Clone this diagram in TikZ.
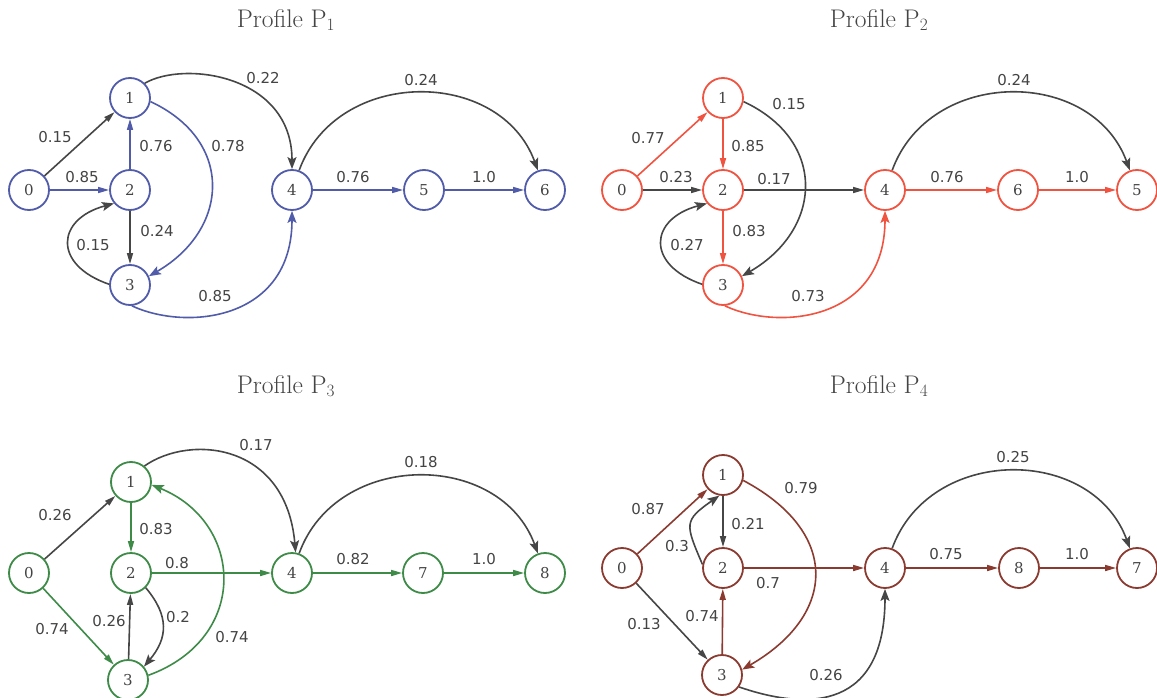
\documentclass[tikz,border=0pt]{standalone}
\usepackage{fontspec}
\newfontfamily\edgefont{DejaVu Sans}
\newfontfamily\nodefont{DejaVu Serif}
\usetikzlibrary{arrows.meta}
\definecolor{cblue}{RGB}{80,92,170}
\definecolor{cred}{RGB}{240,83,64}
\definecolor{cgreen}{RGB}{62,139,72}
\definecolor{cbrown}{RGB}{139,58,48}
\definecolor{cgray}{RGB}{70,70,70}
\definecolor{ctext}{RGB}{68,68,68}
\tikzset{
  vtx/.style={circle, draw=#1, line width=1.8pt, minimum size=40pt, inner sep=0pt,
    fill=white, text=ctext, font=\nodefont\fontsize{15}{17}\selectfont},
  lbl/.style={text=ctext, inner sep=0pt, font=\edgefont\fontsize{15}{17}\selectfont},
  se/.style={draw=#1, line width=1.6pt, -{Stealth[length=11pt,width=6pt,inset=0pt]}},
  ce/.style={draw=#1, line width=1.6pt, -{Stealth[length=12pt,width=9pt,inset=2.5pt]}},
  ttl/.style={text=ctext, inner sep=0pt, font=\fontsize{25.5}{28}\selectfont}
}
\begin{document}
\begin{tikzpicture}[x=1pt,y=-1pt]
\useasboundingbox (0,0) rectangle (1157,698);
% titles
\node[ttl] (t1) at (286,20) {Profile P$_1$};
\node[ttl] (t2) at (879,20) {Profile P$_2$};
\node[ttl] (t3) at (286,386) {Profile P$_3$};
\node[ttl] (t4) at (879,386) {Profile P$_4$};

% ---------------- Profile P1
\begin{scope}
\node[vtx=cblue] (a0) at (29,190) {0};
\node[vtx=cblue] (a1) at (130,98) {1};
\node[vtx=cblue] (a2) at (130,190) {2};
\node[vtx=cblue] (a3) at (130,285) {3};
\node[vtx=cblue] (a4) at (292,190) {4};
\node[vtx=cblue] (a5) at (424,190) {5};
\node[vtx=cblue] (a6) at (545,190) {6};
\draw[se=cgray] (a0) -- (a1);
\draw[se=cblue] (a0) -- (a2);
\draw[se=cblue] (a2) -- (a1);
\draw[se=cgray] (a2) -- (a3);
\draw[ce=cblue] (a1.-10) .. controls +(-25:93pt) and +(30:93pt) .. (a3.25);
\draw[ce=cgray] (a3.178) .. controls +(161:60pt) and +(195:60pt) .. (a2.220);
\draw[ce=cgray] (a1.45) .. controls +(30:46pt) and +(90:94pt) .. (a4.90);
\draw[ce=cblue] (a3.-85) .. controls +(-25:60pt) and +(-90:110pt) .. (a4.-90);
\draw[se=cblue] (a4) -- (a5);
\draw[se=cblue] (a5) -- (a6);
\draw[ce=cgray] (a4.70) .. controls +(70:110pt) and +(110:110pt) .. (a6.110);
\node[lbl] (la1) at (55,137) {0.15};
\node[lbl] (la2) at (82,177) {0.85};
\node[lbl] (la3) at (156,146) {0.76};
\node[lbl] (la4) at (228,146) {0.78};
\node[lbl] (la5) at (157,231) {0.24};
\node[lbl] (la6) at (93,245) {0.15};
\node[lbl] (la7) at (215,296) {0.85};
\node[lbl] (la8) at (263,78) {0.22};
\node[lbl] (la9) at (421,80) {0.24};
\node[lbl] (la10) at (353,177) {0.76};
\node[lbl] (la11) at (484,177) {1.0};
\end{scope}

% ---------------- Profile P2
\begin{scope}[shift={(593,0)}]
\node[vtx=cred] (b0) at (29,190) {0};
\node[vtx=cred] (b1) at (130,98) {1};
\node[vtx=cred] (b2) at (130,190) {2};
\node[vtx=cred] (b3) at (130,285) {3};
\node[vtx=cred] (b4) at (292,190) {4};
\node[vtx=cred] (b6) at (425,190) {6};
\node[vtx=cred] (b5) at (544,190) {5};
\draw[se=cred] (b0) -- (b1);
\draw[se=cgray] (b0) -- (b2);
\draw[se=cred] (b1) -- (b2);
\draw[se=cred] (b2) -- (b3);
\draw[ce=cgray] (b1.-10) .. controls +(-25:93pt) and +(30:93pt) .. (b3.25);
\draw[se=cgray] (b2) -- (b4);
\draw[ce=cgray] (b3.178) .. controls +(161:60pt) and +(195:60pt) .. (b2.220);
\draw[ce=cred] (b3.-85) .. controls +(-25:60pt) and +(-90:110pt) .. (b4.-90);
\draw[se=cred] (b4) -- (b6);
\draw[se=cred] (b6) -- (b5);
\draw[ce=cgray] (b4.70) .. controls +(70:110pt) and +(110:110pt) .. (b5.110);
\node[lbl] (lb1) at (55,138) {0.77};
\node[lbl] (lb2) at (83,177) {0.23};
\node[lbl] (lb3) at (155,146) {0.85};
\node[lbl] (lb4) at (196,104) {0.15};
\node[lbl] (lb5) at (181,179) {0.17};
\node[lbl] (lb6) at (156,231) {0.83};
\node[lbl] (lb7) at (94,245) {0.27};
\node[lbl] (lb8) at (215,296) {0.73};
\node[lbl] (lb9) at (421,80) {0.24};
\node[lbl] (lb10) at (354,177) {0.76};
\node[lbl] (lb11) at (484,177) {1.0};
\end{scope}

% ---------------- Profile P3
\begin{scope}[shift={(0,383)}]
\node[vtx=cgreen] (c0) at (29,190) {0};
\node[vtx=cgreen] (c1) at (131,99) {1};
\node[vtx=cgreen] (c2) at (131,190) {2};
\node[vtx=cgreen] (c3) at (128,297) {3};
\node[vtx=cgreen] (c4) at (292,190) {4};
\node[vtx=cgreen] (c7) at (423,190) {7};
\node[vtx=cgreen] (c8) at (545,190) {8};
\draw[se=cgray] (c0) -- (c1);
\draw[se=cgreen] (c0) -- (c3);
\draw[se=cgreen] (c1) -- (c2);
\draw[se=cgreen] (c2) -- (c4);
\draw[se=cgray] (c3) -- (c2);
\draw[ce=cgray] (c2.-45) .. controls +(-50:37pt) and +(50:37pt) .. (c3.40);
\draw[ce=cgreen] (c3.13) .. controls +(20:108pt) and +(-22:100pt) .. (c1.-8);
\draw[ce=cgray] (c1.50) .. controls +(35:56pt) and +(95:110pt) .. (c4.80);
\draw[se=cgreen] (c4) -- (c7);
\draw[se=cgreen] (c7) -- (c8);
\draw[ce=cgray] (c4.70) .. controls +(70:110pt) and +(110:110pt) .. (c8.110);
\node[lbl] (lc1) at (55,132) {0.26};
\node[lbl] (lc2) at (156,146) {0.83};
\node[lbl] (lc3) at (256,62) {0.17};
\node[lbl] (lc4) at (177,180) {0.8};
\node[lbl] (lc5) at (52,246) {0.74};
\node[lbl] (lc6) at (109,238) {0.26};
\node[lbl] (lc7) at (178,234) {0.2};
\node[lbl] (lc8) at (232,254) {0.74};
\node[lbl] (lc9) at (421,79) {0.18};
\node[lbl] (lc10) at (353,176) {0.82};
\node[lbl] (lc11) at (484,176) {1.0};
\end{scope}

% ---------------- Profile P4
\begin{scope}[shift={(593,378)}]
\node[vtx=cbrown] (d0) at (29,190) {0};
\node[vtx=cbrown] (d1) at (130,97) {1};
\node[vtx=cbrown] (d2) at (130,190) {2};
\node[vtx=cbrown] (d3) at (129,297) {3};
\node[vtx=cbrown] (d4) at (292,190) {4};
\node[vtx=cbrown] (d8) at (426,190) {8};
\node[vtx=cbrown] (d7) at (544,190) {7};
\draw[se=cbrown] (d0) -- (d1);
\draw[se=cgray] (d0) -- (d3);
\draw[se=cgray] (d1) -- (d2);
\draw[ce=cgray] (d2.170) .. controls +(113:44pt) and +(215:44pt) .. (d1.-100);
\draw[ce=cbrown] (d1.-15) .. controls +(-28:110pt) and +(30:110pt) .. (d3.15);
\draw[se=cbrown] (d2) -- (d4);
\draw[se=cbrown] (d3) -- (d2);
\draw[ce=cgray] (d3.-35) .. controls +(-19:60pt) and +(-90:130pt) .. (d4.-90);
\draw[se=cbrown] (d4) -- (d8);
\draw[se=cbrown] (d8) -- (d7);
\draw[ce=cgray] (d4.70) .. controls +(70:110pt) and +(110:110pt) .. (d7.110);
\node[lbl] (ld1) at (55,131) {0.87};
\node[lbl] (ld2) at (155,146) {0.21};
\node[lbl] (ld3) at (84,168) {0.3};
\node[lbl] (ld4) at (208,110) {0.79};
\node[lbl] (ld5) at (175,205) {0.7};
\node[lbl] (ld6) at (51,246) {0.13};
\node[lbl] (ld7) at (109,238) {0.74};
\node[lbl] (ld8) at (233,297) {0.26};
\node[lbl] (ld9) at (420,79) {0.25};
\node[lbl] (ld10) at (353,176) {0.75};
\node[lbl] (ld11) at (484,176) {1.0};
\end{scope}
\end{tikzpicture}
\end{document}
